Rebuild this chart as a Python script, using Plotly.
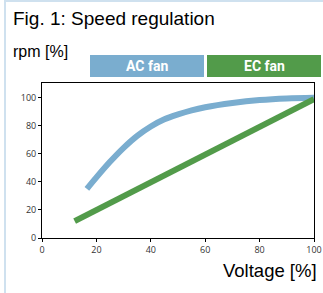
import plotly.graph_objects as go

# Data
ac_voltage = [16.5, 20, 25, 30, 35, 40, 45, 50, 55, 60, 70, 80, 90, 100]
ac_rpm = [35, 43.2, 54.3, 64.3, 72.8, 79.5, 84.6, 88.1, 91.0, 93.2, 96.2, 98.3, 99.5, 100]
ec_voltage = [12, 100]
ec_rpm = [12, 99]
x_ticks = [0, 20, 40, 60, 80, 100]
y_ticks = [0, 20, 40, 60, 80, 100]

W, H = 323, 293
AC_COLOR = "#7aadcf"
EC_COLOR = "#529b4a"

def px(x):
    return x / W

def py(y):
    return 1 - y / H

fig = go.Figure()
fig.add_trace(go.Scatter(x=ac_voltage, y=ac_rpm, mode="lines", line=dict(color=AC_COLOR, width=6, shape="spline", smoothing=1.0), showlegend=False, hoverinfo="skip"))
fig.add_trace(go.Scatter(x=ec_voltage, y=ec_rpm, mode="lines", line=dict(color=EC_COLOR, width=6), showlegend=False, hoverinfo="skip"))

axis_common = dict(showline=True, linecolor="black", linewidth=1, mirror=True, ticks="outside",
                   ticklen=3, tickcolor="black", showgrid=False, zeroline=False, automargin=False,
                   tickfont=dict(family="Open Sans", size=9, color="#333"))

fig.update_layout(
    width=W, height=H,
    margin=dict(l=0, r=0, t=0, b=0),
    paper_bgcolor="white", plot_bgcolor="white",
    xaxis=dict(range=[0, 100], tickvals=x_ticks, domain=[px(42), px(314)], **axis_common),
    yaxis=dict(range=[0, 110.5], tickvals=y_ticks, domain=[py(238), py(83)], **axis_common),
    shapes=[
        dict(type="line", xref="paper", yref="paper", x0=px(5), x1=px(5), y0=0, y1=1,
             line=dict(color="#cfe1ef", width=2)),
        dict(type="line", xref="paper", yref="paper", x0=px(4), x1=1, y0=py(1), y1=py(1),
             line=dict(color="#cfe1ef", width=2)),
        dict(type="rect", xref="paper", yref="paper", x0=px(90), x1=px(204), y0=py(77), y1=py(55),
             fillcolor=AC_COLOR, line=dict(width=0)),
        dict(type="rect", xref="paper", yref="paper", x0=px(207), x1=px(321), y0=py(77), y1=py(55),
             fillcolor=EC_COLOR, line=dict(width=0)),
    ],
    annotations=[
        dict(text="Fig. 1: Speed regulation", xref="paper", yref="paper", x=px(11), y=py(19),
             xanchor="left", yanchor="middle", showarrow=False,
             font=dict(family="Liberation Sans", size=19, color="black")),
        dict(text="rpm [%]", xref="paper", yref="paper", x=px(11), y=py(51),
             xanchor="left", yanchor="middle", showarrow=False,
             font=dict(family="Liberation Sans", size=16, color="black")),
        dict(text="<b>AC fan</b>", xref="paper", yref="paper", x=px(147), y=py(66),
             xanchor="center", yanchor="middle", showarrow=False,
             font=dict(family="Roboto", size=14, color="white")),
        dict(text="<b>EC fan</b>", xref="paper", yref="paper", x=px(264), y=py(66),
             xanchor="center", yanchor="middle", showarrow=False,
             font=dict(family="Roboto", size=14, color="white")),
        dict(text="Voltage [%]", xref="paper", yref="paper", x=px(319), y=py(270),
             xanchor="right", yanchor="middle", showarrow=False,
             font=dict(family="Liberation Sans", size=18.5, color="black")),
    ],
)

fig.write_html("out.html", config={"displayModeBar": False},
               post_script="document.body.style.margin='0';")
